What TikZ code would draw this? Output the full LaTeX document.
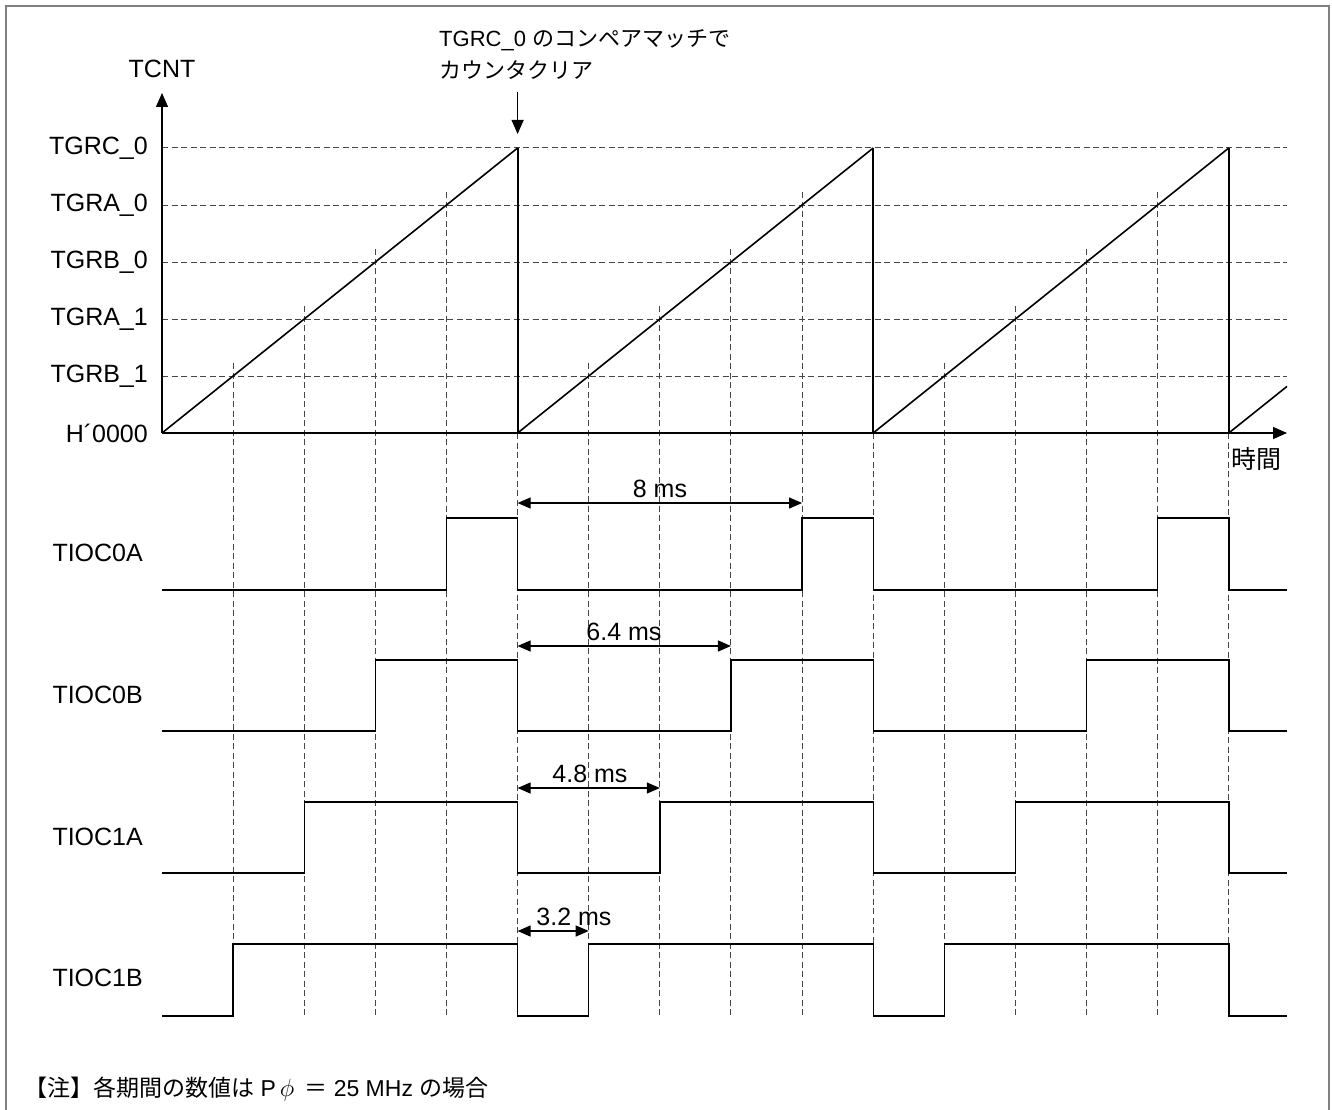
\documentclass[tikz,border=0pt]{standalone}
\usepackage{fontspec}
\setmainfont{Liberation Sans}
\newfontfamily\jp{Noto Sans CJK JP}
\usetikzlibrary{arrows.meta}
\definecolor{framegray}{RGB}{128,128,128}
\definecolor{dashgray}{RGB}{70,70,70}
\begin{document}
\begin{tikzpicture}[x=1pt,y=-1pt,
  lbl/.style={font=\fontsize{25}{28}\selectfont, inner sep=0pt},
  annot/.style={font=\fontsize{22}{30}\selectfont, inner sep=0pt, align=left},
  notestyle/.style={font=\fontsize{23}{30}\selectfont, inner sep=0pt},
  guide/.style={dashgray, line width=1pt, dash pattern=on 6pt off 3.5pt},
  sig/.style={black, line width=1.4pt},
  ramp/.style={black, line width=1.6pt},
  drop/.style={black, line width=2pt},
  axis/.style={black, line width=1.3pt, -{Triangle[length=14pt,width=12pt]}},
  dim/.style={black, line width=1.2pt, {Triangle[length=13pt,width=11pt]}-{Triangle[length=13pt,width=11pt]}}
]
\useasboundingbox (0,0) rectangle (1332,1110);
\draw[framegray, line width=2pt] (6,1130) -- (6,6) -- (1329,6) -- (1329,1130);

\def\P{355.6}
% horizontal guides
\foreach \k in {1,...,5}{
  \draw[guide] (162,{433-57*\k}) -- (1287,{433-57*\k});
}
% vertical guides at crossings
\foreach \j in {0,1,2}{
  \foreach \k in {1,...,4}{
    \draw[guide] ({162+\j*\P+\k*\P/5},{433-57*\k-13}) -- ({162+\j*\P+\k*\P/5},1016);
  }
  \draw[guide] ({162+(\j+1)*\P},433) -- ({162+(\j+1)*\P},1016);
}

% axes
\coordinate (o) at (162,433);
\coordinate (ytip) at (162,93);
\coordinate (xtip) at (1287,433);
\draw[axis] (o) -- (ytip);
\draw[axis] (o) -- (xtip);

% ramps
\foreach \j in {0,1,2}{
  \draw[ramp] ({162+\j*\P},433) -- ({162+(\j+1)*\P},148);
  \draw[drop] ({162+(\j+1)*\P},148) -- ({162+(\j+1)*\P},433);
}
\draw[ramp] ({162+3*\P},433) -- (1287,386.4);

% waveforms: k, high y, low y
\foreach \k/\hy/\ly in {4/518/590, 3/660/731, 2/802/873, 1/944/1016}{
  \pgfmathsetmacro{\dx}{\k*\P/5}
  \draw[sig] (162,\ly)
    -- ({162+\dx},\ly) -- ({162+\dx},\hy) -- ({162+\P},\hy) -- ({162+\P},\ly)
    -- ({162+\P+\dx},\ly) -- ({162+\P+\dx},\hy) -- ({162+2*\P},\hy) -- ({162+2*\P},\ly)
    -- ({162+2*\P+\dx},\ly) -- ({162+2*\P+\dx},\hy) -- ({162+3*\P},\hy) -- ({162+3*\P},\ly)
    -- (1287,\ly);
}

% dimension arrows
\foreach \k/\yy/\name in {4/503/d8, 3/646/d64, 2/788/d48, 1/931/d32}{
  \coordinate (\name a) at ({162+\P},\yy);
  \coordinate (\name b) at ({162+\P+\k*\P/5},\yy);
  \draw[dim] (\name a) -- (\name b);
}
\node[lbl] (t8)  at (660,489) {8 ms};
\node[lbl] (t64) at (624,632) {6.4 ms};
\node[lbl] (t48) at (590,774) {4.8 ms};
\node[lbl] (t32) at (574,917) {3.2 ms};

% level labels
\node[lbl, anchor=east] (lc0) at (148,148) {TGRC\_0};
\node[lbl, anchor=east] (la0) at (148,205) {TGRA\_0};
\node[lbl, anchor=east] (lb0) at (148,262) {TGRB\_0};
\node[lbl, anchor=east] (la1) at (148,319) {TGRA\_1};
\node[lbl, anchor=east] (lb1) at (148,376) {TGRB\_1};
\node[lbl, anchor=east] (lh)  at (148,433) {H´0000};
\node[lbl] (tcnt) at (162,69) {TCNT};
\node[lbl, anchor=west] (time) at (1231,459) {\jp 時間};

% signal labels
\node[lbl, anchor=east] (s0a) at (143,553) {TIOC0A};
\node[lbl, anchor=east] (s0b) at (143,695) {TIOC0B};
\node[lbl, anchor=east] (s1a) at (143,837) {TIOC1A};
\node[lbl, anchor=east] (s1b) at (143,978) {TIOC1B};

% annotation
\node[annot, anchor=west] (ann1) at (439,40) {TGRC\_0 {\jp のコンペアマッチで}};
\node[annot, anchor=west] (ann2) at (439,70) {\jp カウンタクリア};
\coordinate (anntail) at ({162+\P},92);
\coordinate (annhead) at ({162+\P},134);
\draw[axis] (anntail) -- (annhead);

% note
\node[notestyle, anchor=west] (note) at (24,1089) {{\jp 【注】各期間の数値は} P\,$\phi$\, {\jp ＝} 25 MHz {\jp の場合}};
\end{tikzpicture}
\end{document}
